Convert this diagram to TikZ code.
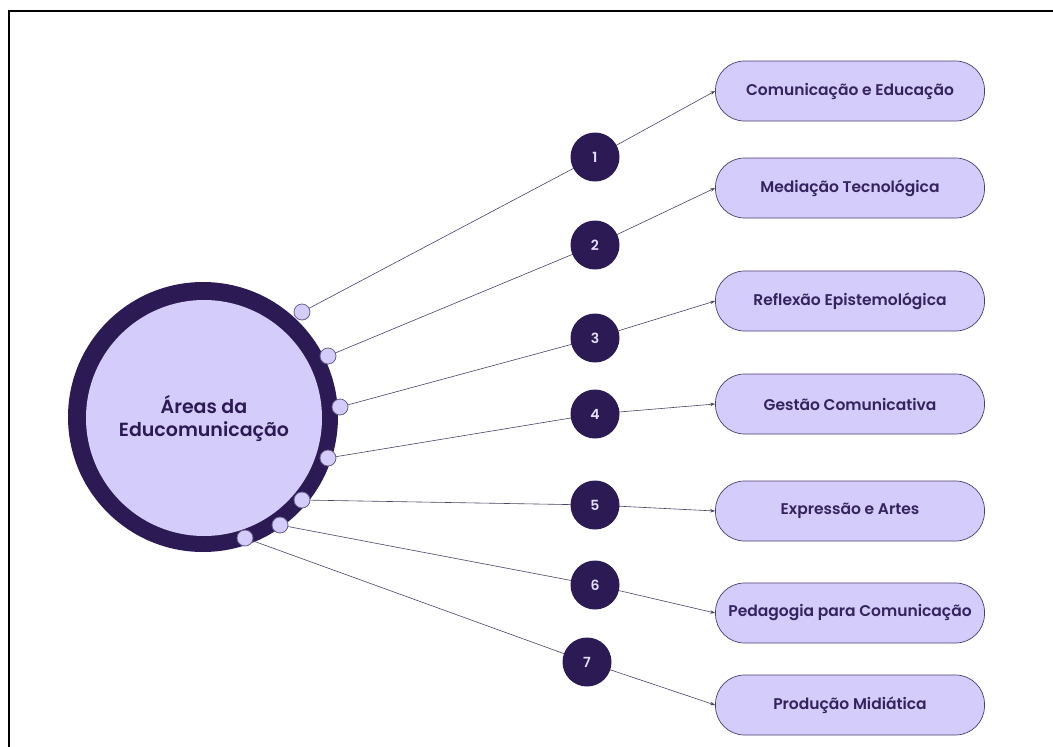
\documentclass[tikz,border=0pt]{standalone}
\usepackage{fontspec}
\setmainfont{Poppins}[BoldFont={Poppins SemiBold}]
\usetikzlibrary{arrows.meta}
\definecolor{deep}{HTML}{2C1A55}
\definecolor{lav}{HTML}{D4CCFB}
\definecolor{txt}{HTML}{34235E}
\definecolor{wire}{HTML}{4A4264}
\tikzset{
  area/.style={draw=deep!85, line width=0.7pt, fill=lav, rounded corners=29pt,
    minimum width=269pt, minimum height=60pt, inner sep=0pt,
    font=\fontsize{15.5}{18}\selectfont\bfseries, text=txt},
  num/.style={circle, fill=deep, minimum size=49pt, inner sep=0pt,
    font=\fontsize{14}{16}\selectfont\bfseries, text=lav!60!white},
  port/.style={circle, draw=deep!70, line width=0.8pt, fill=lav, minimum size=16pt, inner sep=0pt},
  wire/.style={draw=wire, line width=0.6pt},
  arr/.style={wire, -{Stealth[length=5pt,width=3.5pt]}},
}
\begin{document}
\begin{tikzpicture}[x=1pt,y=-1pt]
\useasboundingbox (0,0) rectangle (1053,747);
% frame
\draw[line width=1.8pt, black] (9,747) -- (9,11) -- (1053,11);
% hub
\node[circle, fill=deep, minimum size=270pt, inner sep=0pt] (hub) at (203,417) {};
\node[circle, fill=lav, minimum size=236pt, inner sep=0pt,
  font=\fontsize{19}{23}\selectfont\bfseries, text=deep, align=center] (hubin) at (204,418)
  {Áreas da\\Educomunicação};
% boxes
\node[area] (b1) at (850,91)  {Comunicação e Educação};
\node[area] (b2) at (850,188) {Mediação Tecnológica};
\node[area] (b3) at (850,301) {Reflexão Epistemológica};
\node[area] (b4) at (850,404) {Gestão Comunicativa};
\node[area] (b5) at (850,511) {Expressão e Artes};
\node[area] (b6) at (850,613) {Pedagogia para Comunicação};
\node[area] (b7) at (850,705) {Produção Midiática};
% number circles positions
\coordinate (c1) at (595,157);
\coordinate (c2) at (595,245);
\coordinate (c3) at (595,338);
\coordinate (c4) at (595,414);
\coordinate (c5) at (595,505);
\coordinate (c6) at (595,585);
\coordinate (c7) at (587,662);
% ports
\coordinate (p1) at (302,312);
\coordinate (p2) at (328,356);
\coordinate (p3) at (340,407);
\coordinate (p4) at (328,458);
\coordinate (p5) at (302,500);
\coordinate (p6) at (280,525);
\coordinate (p7) at (245,538);
% connectors
\foreach \i in {1,...,7}{
  \draw[wire] (p\i) -- (c\i);
  \draw[arr] (c\i) -- (b\i.west);
}
\foreach \i in {1,...,7}{
  \node[port] (q\i) at (p\i) {};
  \node[num] (n\i) at (c\i) {\i};
}
\end{tikzpicture}
\end{document}
